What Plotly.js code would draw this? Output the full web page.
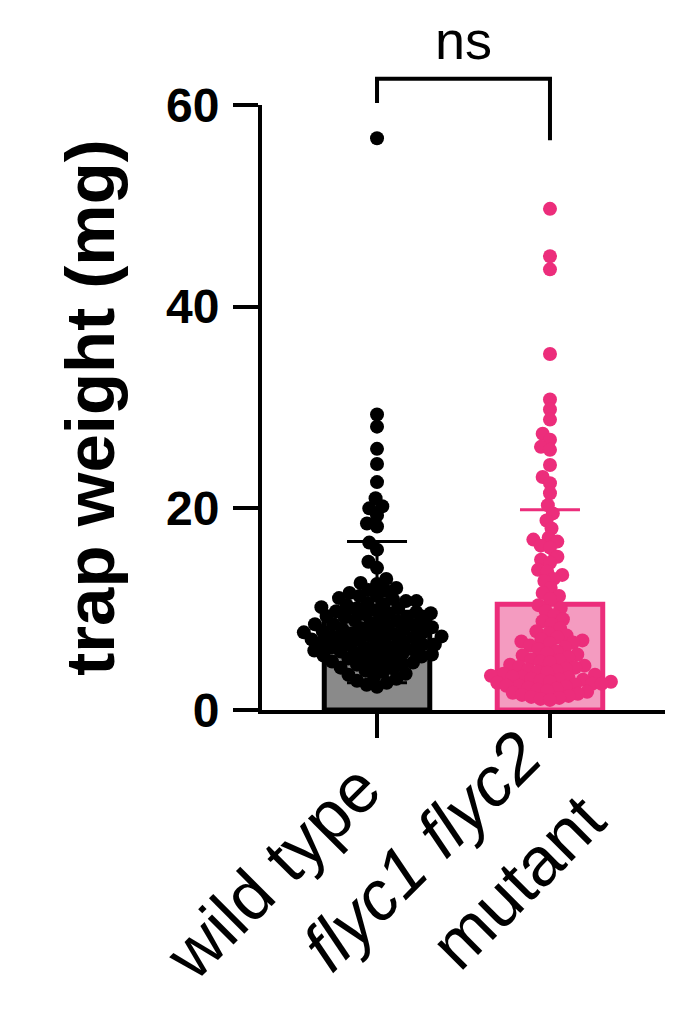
<!DOCTYPE html>
<html>
<head>
<meta charset="utf-8">
<script src="https://cdn.plot.ly/plotly-3.0.1.min.js"></script>
<style>html,body{margin:0;padding:0;background:#fff;}#chart{width:694px;height:1021px;}</style>
</head>
<body>
<div id="chart"></div>
<script>
// ---- data ----
const categories = ['wild type', 'flyc1 flyc2 mutant'];
const tickLabels = ['wild type', '<i>flyc1 flyc2</i><br>mutant'];
const barMeans = [9.7, 10.5];
const barSD = [7.0, 9.35];
const wildTypeWeights = [
  56.7, 29.3, 28.1, 25.9, 24.4, 22.6, 21.0, 20.2, 20.0, 19.3, 18.5, 18.2, 16.6, 15.9, 14.7, 14.1,
  13.0, 12.6, 12.5, 12.1, 11.9, 11.8, 11.6, 11.3, 11.3, 11.1, 11.0, 10.8, 10.8, 10.6, 10.5, 10.4,
  10.2, 10.1, 10.1, 9.9, 9.8, 9.7, 9.6, 9.6, 9.5, 9.3, 9.2, 9.2, 9.0, 8.9, 8.9, 8.8, 8.6, 8.5,
  8.5, 8.4, 8.3, 8.2, 8.1, 8.0, 8.0, 7.9, 7.8, 7.7, 7.7, 7.6, 7.5, 7.4, 7.3, 7.3, 7.2, 7.1, 7.0,
  6.9, 6.9, 6.8, 6.7, 6.6, 6.5, 6.5, 6.4, 6.3, 6.2, 6.1, 6.0, 6.0, 5.9, 5.8, 5.7, 5.6, 5.5, 5.5,
  5.4, 5.3, 5.2, 5.1, 5.0, 4.9, 4.8, 4.7, 4.6, 4.5, 4.4, 4.2, 4.1, 3.9, 3.8, 3.6, 3.5, 3.3, 3.1,
  2.9, 2.7, 2.5, 2.3
];
const mutantWeights = [
  49.7, 45.0, 43.7, 35.3, 30.8, 29.8, 28.8, 27.4, 26.8, 26.1, 25.8, 24.3, 23.1, 22.5, 21.5, 20.3,
  19.5, 18.8, 18.0, 17.1, 16.9, 16.7, 16.3, 16.1, 15.2, 14.9, 14.6, 13.9, 13.7, 13.4, 13.0, 12.8,
  12.1, 11.6, 11.3, 11.0, 10.4, 10.1, 9.8, 9.4, 9.0, 8.8, 8.5, 8.1, 7.8, 7.6, 7.4, 7.2, 7.0, 6.9,
  6.8, 6.7, 6.6, 6.4, 6.2, 6.0, 5.8, 5.6, 5.5, 5.4, 5.2, 5.0, 4.9, 4.8, 4.7, 4.5, 4.4, 4.3, 4.2,
  4.1, 4.0, 3.9, 3.8, 3.7, 3.6, 3.5, 3.4, 3.3, 3.3, 3.2, 3.1, 3.0, 3.0, 2.9, 2.8, 2.8, 2.7, 2.6,
  2.6, 2.5, 2.4, 2.4, 2.3, 2.2, 2.1, 2.0, 1.9, 1.8, 1.7, 1.6, 1.5, 1.4, 1.3, 1.2, 1.1, 1.0
];
const significance = 'ns';
const yTicks = [0, 20, 40, 60];

// ---- layout constants ----
const W = 694, H = 1021;
const M = {l: 262, r: 29, t: 105, b: 311};
const xRange = [-0.665, 1.665];
const yRange = [0, 60];
const pxX = (W - M.l - M.r) / (xRange[1] - xRange[0]);
const pxY = (H - M.t - M.b) / (yRange[1] - yRange[0]);

// deterministic beeswarm offsets (in data units) for a category centre
function swarm(values, center, d) {
  const order = values.map((v, i) => i).sort((a, b) => values[a] - values[b]);
  const placed = [];
  const xs = new Array(values.length);
  for (const i of order) {
    const y = values[i] * pxY;
    const iv = [];
    for (const p of placed) {
      const dy = Math.abs(p.y - y);
      if (dy < d) { const dx = Math.sqrt(d * d - dy * dy); iv.push([p.x - dx, p.x + dx]); }
    }
    const cands = [0];
    iv.forEach(([a, b]) => cands.push(a, b));
    cands.sort((a, b) => Math.abs(a) - Math.abs(b));
    let x = 0;
    for (const c of cands) {
      if (iv.every(([a, b]) => c <= a + 1e-6 || c >= b - 1e-6)) { x = c; break; }
    }
    placed.push({x, y});
    xs[i] = center + x / pxX;
  }
  return xs;
}

const black = '#000000';
const grey = '#8a8a8a';
const pink = '#EC2D7B';
const lightPink = '#F49BC0';

const traces = [
  {type: 'bar', x: [0], y: [barMeans[0]], width: 0.61, name: categories[0],
   marker: {color: grey, line: {color: black, width: 5}},
   error_y: {type: 'data', array: [barSD[0]], arrayminus: [barSD[0]], color: black, thickness: 3, width: 30}},
  {type: 'bar', x: [1], y: [barMeans[1]], width: 0.61, name: categories[1],
   marker: {color: lightPink, line: {color: pink, width: 5}},
   error_y: {type: 'data', array: [barSD[1]], arrayminus: [barSD[1]], color: pink, thickness: 3, width: 30}},
  {type: 'scatter', mode: 'markers', x: swarm(wildTypeWeights, 0, 10.5), y: wildTypeWeights,
   marker: {color: black, size: 14}, cliponaxis: false},
  {type: 'scatter', mode: 'markers', x: swarm(mutantWeights, 1, 9.5), y: mutantWeights,
   marker: {color: pink, size: 14}, cliponaxis: false}
];

const brTop = 62.6, brLeft = 60.2, brRight = 56.5;
const yp = v => v / yRange[1];
// paper y for a pixel row below the plot (for category label placement)
const ypx = py => (H - M.b - py) / (H - M.t - M.b);

const layout = {
  width: W, height: H,
  margin: M,
  paper_bgcolor: 'white', plot_bgcolor: 'white',
  showlegend: false,
  barmode: 'overlay',
  font: {family: 'Liberation Sans, Arial, Helvetica, sans-serif', color: black},
  xaxis: {
    range: xRange, tickmode: 'array', tickvals: [0, 1], ticktext: ['', ''],
    ticks: 'outside', ticklen: 24, tickwidth: 4, tickcolor: black,
    showline: true, linewidth: 4, linecolor: black, showgrid: false, zeroline: false
  },
  yaxis: {
    range: yRange, tickmode: 'array', tickvals: yTicks,
    ticks: 'outside', ticklen: 25, tickwidth: 4, tickcolor: black, ticklabelstandoff: 4,
    showline: true, linewidth: 4, linecolor: black, showgrid: false, zeroline: false,
    tickfont: {size: 48, weight: 'bold', color: black},
    title: {text: 'trap weight (mg)', font: {size: 69, weight: 'bold', color: black}, standoff: 30}
  },
  shapes: [{
    type: 'path', xref: 'x', yref: 'paper',
    path: `M 0,${yp(brLeft)} L 0,${yp(brTop)} L 1,${yp(brTop)} L 1,${yp(brRight)}`,
    line: {color: black, width: 4}
  }],
  annotations: [
    {text: significance, xref: 'x', yref: 'paper', x: 0.5, y: yp(66.4),
     showarrow: false, font: {size: 54, color: black}, yanchor: 'middle'},
    {text: tickLabels[0], xref: 'paper', yref: 'paper',
     x: (272 - M.l) / (W - M.l - M.r), y: ypx(872), xanchor: 'center', yanchor: 'middle',
     textangle: -45, showarrow: false, font: {size: 69, color: black}},
    {text: tickLabels[1], xref: 'paper', yref: 'paper', align: 'right',
     x: (453 - M.l) / (W - M.l - M.r), y: ypx(883), xanchor: 'center', yanchor: 'middle',
     textangle: -45, showarrow: false, font: {size: 69, color: black}}
  ]
};

Plotly.newPlot('chart', traces, layout, {displayModeBar: false, staticPlot: true});
</script>
</body>
</html>
